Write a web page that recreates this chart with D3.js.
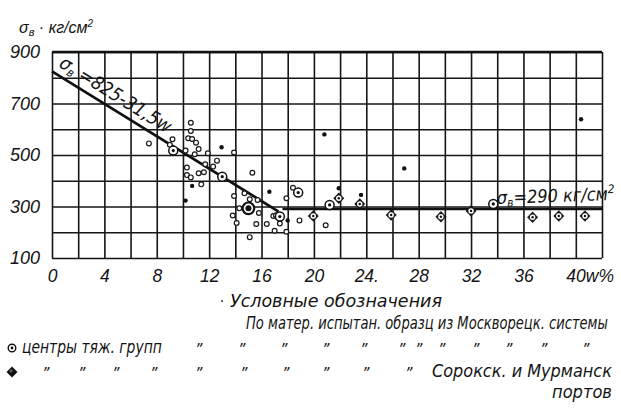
<!DOCTYPE html>
<html>
<head>
<meta charset="utf-8">
<script src="https://cdn.jsdelivr.net/npm/d3@7"></script>
<style>
  body { margin: 0; background: #fff; }
  text { font-family: "Liberation Sans", sans-serif; font-style: italic; fill: #141414; }
  .hand { font-family: "DejaVu Sans Condensed", "DejaVu Sans", sans-serif; font-style: oblique; }
</style>
</head>
<body>
<script>
// значения: w (%) , σв (кг/см²)
const openPts = [
  [7.4, 545], [9.2, 561], [9.0, 540], [10.6, 625], [10.6, 593], [10.4, 565], [10.7, 562], [11.0, 548],
  [10.2, 517], [11.2, 523], [10.9, 503], [11.9, 507], [13.9, 510], [10.3, 451], [10.3, 422],
  [10.6, 413], [11.2, 429], [11.6, 433], [11.7, 464], [12.3, 455], [12.6, 478], [11.4, 386],
  [13.9, 341], [15.3, 431], [14.7, 351], [15.1, 328], [15.7, 325], [14.3, 293], [13.8, 265],
  [15.8, 275], [14.1, 236], [15.6, 232], [15.1, 181], [16.4, 232], [17.0, 206], [16.9, 263],
  [17.1, 266], [17.4, 234], [17.9, 332], [17.9, 202], [18.4, 373], [18.9, 246], [20.9, 227]
];
const dotPts = [
  [12.95, 530], [10.7, 380], [10.2, 323], [16.6, 357], [18.0, 246], [20.8, 580],
  [26.9, 448], [21.9, 371], [23.6, 345], [40.4, 639]
];
const centerPts = [
  [9.26, 517], [13.0, 416], [17.4, 261], [18.8, 354], [21.2, 306], [33.7, 310]
];
const bigCenterPts = [[15.0, 293]];
const diamondPts = [
  [19.95, 263], [21.9, 332], [23.5, 310], [25.9, 267], [29.7, 260], [32.0, 283],
  [36.7, 258], [38.7, 263], [40.7, 263]
];
const fitLine = [[0, 825], [17.3, 280]];
const levelLine = [[17.6, 290], [42, 290]];

const xTicks = [0, 4, 8, 12, 16, 20, 24, 28, 32, 36, 40];
const xTickLabels = ["0", "4", "8", "12", "16", "20", "24.", "28", "32", "36", "40w%"];
const yTicks = [900, 700, 500, 300, 100];

const W = 621, H = 414;
const svg = d3.select("body").append("svg")
  .attr("width", W).attr("height", H);

const x = d3.scaleLinear().domain([0, 42]).range([52, 602]);
const y = d3.scaleLinear().domain([100, 900]).range([258, 52]);

// сетка
svg.append("g")
  .attr("transform", `translate(0,${y(100)})`)
  .call(d3.axisBottom(x).tickValues(d3.range(0, 43, 2)).tickSize(-(y(100) - y(900))).tickFormat(""))
  .call(g => g.select(".domain").remove())
  .call(g => g.selectAll(".tick line").attr("stroke", "#161616").attr("stroke-width", 1.6));

svg.append("g")
  .attr("transform", `translate(${x(0)},0)`)
  .call(d3.axisLeft(y).tickValues(d3.range(100, 901, 100)).tickSize(-(x(42) - x(0))).tickFormat(""))
  .call(g => g.select(".domain").remove())
  .call(g => g.selectAll(".tick line").attr("stroke", "#161616").attr("stroke-width", 1.6));

svg.append("line")
  .attr("x1", x(0)).attr("x2", x(42)).attr("y1", y(900)).attr("y2", y(900))
  .attr("stroke", "#111").attr("stroke-width", 2.4);

// подписи осей
svg.append("g")
  .attr("transform", `translate(0,${y(100)})`)
  .call(d3.axisBottom(x).tickValues(xTicks).tickSize(0).tickPadding(12)
    .tickFormat((d, i) => xTickLabels[i]))
  .call(g => g.select(".domain").remove())
  .call(g => g.selectAll("text").attr("font-size", 17.5))
  .call(g => g.selectAll(".tick").filter(d => d === 40).select("text")
    .attr("text-anchor", "start").attr("dx", -10));

svg.append("g")
  .attr("transform", `translate(40,0)`)
  .call(d3.axisLeft(y).tickValues(yTicks).tickSize(0).tickPadding(0))
  .call(g => g.select(".domain").remove())
  .call(g => g.selectAll("text").attr("font-size", 18));

svg.selectAll(".tick text")
  .attr("font-family", null)
  .style("font-family", "'Liberation Sans', sans-serif").style("font-style", "italic").style("fill", "#141414");

const title = svg.append("text").attr("x", 19).attr("y", 33).attr("font-size", 16);
title.append("tspan").text("σ");
title.append("tspan").attr("font-size", 11).attr("dy", 3).text("в");
title.append("tspan").attr("dy", -3).text(" · кг/см");
title.append("tspan").attr("font-size", 10).attr("dy", -6).text("2");

// линии
const line = d3.line().x(d => x(d[0])).y(d => y(d[1]));
svg.append("path").datum(fitLine).attr("d", line)
  .attr("fill", "none").attr("stroke", "#111").attr("stroke-width", 2.7);
svg.append("path").datum(levelLine).attr("d", line)
  .attr("fill", "none").attr("stroke", "#111").attr("stroke-width", 2.5);

const p0 = [x(fitLine[0][0]), y(fitLine[0][1])], p1 = [x(fitLine[1][0]), y(fitLine[1][1])];
const ang = Math.atan2(p1[1] - p0[1], p1[0] - p0[0]) * 180 / Math.PI;
const fl = svg.append("text").attr("class", "hand")
  .attr("transform", `translate(${p0[0] + 6},${p0[1] - 5}) rotate(${ang})`)
  .attr("font-size", 19);
fl.append("tspan").text("σ");
fl.append("tspan").attr("font-size", 12).attr("dy", 3).text("в");
fl.append("tspan").attr("dy", -3).text(" =825-31,5w");

const ll = svg.append("text").attr("class", "hand")
  .attr("x", 497).attr("y", 204).attr("font-size", 18)
  .attr("transform", "rotate(-2,497,204)");
ll.append("tspan").text("σ");
ll.append("tspan").attr("font-size", 12).attr("dy", 3).text("в");
ll.append("tspan").attr("dy", -3).text("=290 кг/см");
ll.append("tspan").attr("font-size", 12).attr("dy", -7).text("2");

// точки
svg.append("g").selectAll("circle").data(openPts).join("circle")
  .attr("cx", d => x(d[0])).attr("cy", d => y(d[1])).attr("r", 2.4)
  .attr("fill", "#fff").attr("stroke", "#1a1a1a").attr("stroke-width", 1.2);

svg.append("g").selectAll("circle").data(dotPts).join("circle")
  .attr("cx", d => x(d[0])).attr("cy", d => y(d[1])).attr("r", 2.2)
  .attr("fill", "#111");

function drawCenter(g, data, r, inner, sw) {
  const c = g.selectAll("g").data(data).join("g")
    .attr("transform", d => `translate(${x(d[0])},${y(d[1])})`);
  c.append("circle").attr("r", r).attr("fill", "#fff").attr("stroke", "#111").attr("stroke-width", sw);
  c.append("circle").attr("r", inner).attr("fill", "#111");
}
drawCenter(svg.append("g"), centerPts, 4.5, 1.6, 1.5);
drawCenter(svg.append("g"), bigCenterPts, 5.8, 3, 2.2);

function drawDiamond(g, data) {
  const c = g.selectAll("g").data(data).join("g")
    .attr("transform", d => `translate(${x(d[0])},${y(d[1])})`);
  c.append("path").attr("d", "M0,-5.8L5.5,0L0,5.8L-5.5,0Z").attr("fill", "#1a1a1a");
  c.append("circle").attr("r", 2.7).attr("fill", "#fff");
  c.append("circle").attr("r", 1.2).attr("fill", "#111");
}
drawDiamond(svg.append("g"), diamondPts);

// условные обозначения
const legend = svg.append("g").attr("class", "legend");

// текст сжимается по ширине масштабом, а не textLength
function fitText(txt, x0, y0, size, width) {
  const t = legend.append("text").attr("class", "hand").attr("font-size", size).text(txt);
  const len = t.node().getComputedTextLength();
  t.attr("transform", `translate(${x0},${y0}) scale(${width / len},1)`);
  return t;
}

legend.append("circle").attr("cx", 222).attr("cy", 301).attr("r", 1).attr("fill", "#333");
fitText("Условные обозначения", 230, 307, 17, 212);
fitText("По матер. испытан. образц из Москворецк. системы", 246, 329, 18, 362);

function drawLegendCenter(g) {
  g.append("circle").attr("r", 3.8).attr("fill", "#fff").attr("stroke", "#111").attr("stroke-width", 1.4);
  g.append("circle").attr("r", 1.4).attr("fill", "#111");
}
drawLegendCenter(legend.append("g").attr("transform", "translate(12,348)"));
fitText("центры тяж. групп", 22, 353, 18, 140);

const dittoRow3 = [195, 238, 280, 322, 360, 398, 415, 438, 472, 505, 540, 582];
const dittoRow4 = [42, 78, 112, 150, 195, 240, 282, 322, 362, 405];
legend.append("g").selectAll("text").data(dittoRow3).join("text")
  .attr("class", "hand").attr("x", d => d).attr("y", 355).attr("font-size", 16).text("”");
legend.append("g").selectAll("text").data(dittoRow4).join("text")
  .attr("class", "hand").attr("x", d => d).attr("y", 379).attr("font-size", 16).text("”");

const ld = legend.append("g").attr("transform", "translate(12,372)");
ld.append("path").attr("d", "M0,-5.5L5.5,0L0,5.5L-5.5,0Z").attr("fill", "#111");
ld.append("circle").attr("r", 1.4).attr("cx", -1).attr("cy", -1).attr("fill", "#666");

fitText("Сорокск. и Мурманск", 432, 377, 18, 180);
fitText("портов", 552, 398, 18, 60);
</script>
</body>
</html>
